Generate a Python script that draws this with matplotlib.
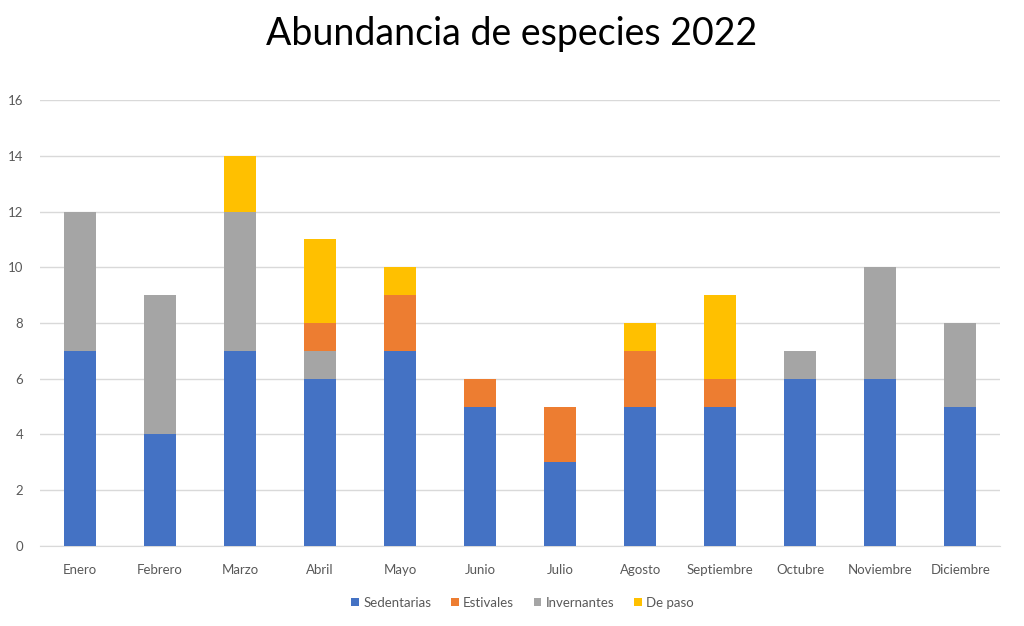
import numpy as np
import matplotlib
matplotlib.use("Agg")
import matplotlib.pyplot as plt

meses = ["Enero", "Febrero", "Marzo", "Abril", "Mayo", "Junio", "Julio",
         "Agosto", "Septiembre", "Octubre", "Noviembre", "Diciembre"]
sedentarias = [7, 4, 7, 6, 7, 5, 3, 5, 5, 6, 6, 5]
estivales = [0, 0, 0, 1, 2, 1, 2, 2, 1, 0, 0, 0]
invernantes = [5, 5, 5, 1, 0, 0, 0, 0, 0, 1, 4, 3]
de_paso = [0, 0, 2, 3, 1, 0, 0, 1, 3, 0, 0, 0]

plt.rcParams["font.family"] = ["Lato", "DejaVu Sans"]

fig = plt.figure(figsize=(10.24, 6.26), dpi=100)
ax = fig.add_axes([0.039, 0.128, 0.938, 0.712])

x = np.arange(len(meses))
w = 0.4
sed = np.array(sedentarias)
inv = np.array(invernantes)
est = np.array(estivales)
dp = np.array(de_paso)

# stacking order in the original: sedentarias, invernantes, estivales, de paso
b_sed = ax.bar(x, sed, w, color="#4472C4", zorder=3)
b_inv = ax.bar(x, inv, w, bottom=sed, color="#A5A5A5", zorder=3)
b_est = ax.bar(x, est, w, bottom=sed + inv, color="#ED7D31", zorder=3)
b_dp = ax.bar(x, dp, w, bottom=sed + inv + est, color="#FFC000", zorder=3)

ax.set_xlim(-0.5, len(meses) - 0.5)
ax.set_ylim(0, 16)
ax.set_yticks(range(0, 17, 2))
ax.set_xticks(x)
ax.set_xticklabels(meses)
ax.yaxis.grid(True, color="#D9D9D9", linewidth=1, zorder=0)
for s in ax.spines.values():
    s.set_visible(False)
ax.spines["bottom"].set_visible(True)
ax.spines["bottom"].set_color("#D9D9D9")
ax.tick_params(axis="both", length=0, colors="#595959", labelsize=9.5)
ax.tick_params(axis="y", pad=12)
ax.tick_params(axis="x", pad=13)

fig.suptitle("Abundancia de especies 2022", y=0.975, fontsize=27, color="#000000",
             fontweight="normal")

fig.legend([b_sed, b_est, b_inv, b_dp], ["Sedentarias", "Estivales", "Invernantes", "De paso"],
           loc="center", bbox_to_anchor=(0.51, 0.037), ncol=4, frameon=False,
           fontsize=9.5, labelcolor="#595959", handlelength=0.6, handleheight=0.6,
           handletextpad=0.3, columnspacing=1.5)

fig.savefig("out.png", dpi=100)
